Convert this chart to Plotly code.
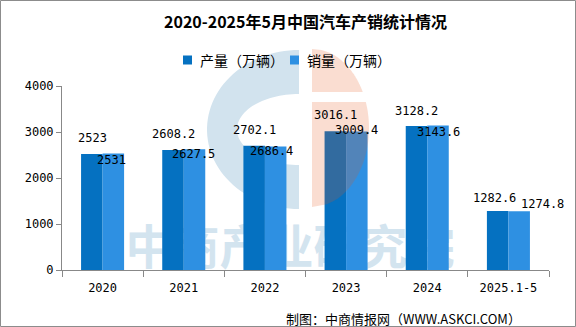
import numpy as np
import plotly.graph_objects as go

# ---- data ----
years = ["2020", "2021", "2022", "2023", "2024", "2025.1-5"]
production = [2523, 2608.2, 2702.1, 3016.1, 3128.2, 1282.6]
sales = [2531, 2627.5, 2686.4, 3009.4, 3143.6, 1274.8]
series_names = ["产量（万辆）", "销量（万辆）"]
y_ticks = [0, 1000, 2000, 3000, 4000]

title_text = "2020-2025年5月中国汽车产销统计情况"
source_text = "制图：中商情报网（WWW.ASKCI.COM）"
watermark_text = "中商产业研究院"

# ---- styling ----
colors = ["#0571C1", "#2E90E2"]
num_font = "DejaVu Sans Mono"
cjk_font = "Noto Sans CJK SC"

# per-label nudges (px): dx to the right, dy upward, relative to the bar top
prod_dx = [1, 1, 0, 0, 0, -3]
prod_dy = [16, 16, 15.7, 16, 15, 13]
sales_dx = [-2, -1, -4, 0, 0, 23]
sales_dy = [-6.4, -5, -4.6, 1.6, -6.6, 7.4]

FIG_W, FIG_H = 576, 327
M_L, M_R, M_T, M_B = 62, 27, 86, 57
PW = FIG_W - M_L - M_R
PH = FIG_H - M_T - M_B
BARGAP = 0.47
# distance (px) from a category centre to the centre of each of its two bars
bar_offset = PW / len(years) * (1 - BARGAP) / 4


def px(x):
    """pixel x -> paper x"""
    return (x - M_L) / PW


def py(y):
    """pixel y (from top) -> paper y"""
    return (FIG_H - M_B - y) / PH


def poly_path(points):
    return "M" + "L".join(f"{px(x):.5f},{py(y):.5f}" for x, y in points) + "Z"


fig = go.Figure()

# watermark text on the base axes, so the bars (overlaid axes) sit above it
fig.add_trace(go.Scatter(
    x=[px(290)], y=[py(252)], mode="text", text=[watermark_text],
    textfont=dict(family=cjk_font, size=47, color="#D3E4EF", weight="bold"),
    textposition="middle center", cliponaxis=False, hoverinfo="skip",
    showlegend=False, xaxis="x", yaxis="y",
))

fig.add_trace(go.Bar(
    x=years, y=production, name=series_names[0], marker_color=colors[0],
    marker_line_width=0, xaxis="x2", yaxis="y2", showlegend=False,
))
fig.add_trace(go.Bar(
    x=years, y=sales, name=series_names[1], marker_color=colors[1],
    marker_line_width=0, xaxis="x2", yaxis="y2", showlegend=False,
))

annotations = []
for i, yr in enumerate(years):
    annotations.append(dict(
        x=i, y=production[i], xref="x2", yref="y2", text=f"{production[i]:g}",
        showarrow=False, xanchor="center", yanchor="middle",
        xshift=-bar_offset + prod_dx[i], yshift=prod_dy[i],
        font=dict(family=num_font, size=12, color="#000000"),
    ))
    annotations.append(dict(
        x=i, y=sales[i], xref="x2", yref="y2", text=f"{sales[i]:g}",
        showarrow=False, xanchor="center", yanchor="middle",
        xshift=bar_offset + sales_dx[i], yshift=sales_dy[i],
        font=dict(family=num_font, size=12, color="#000000"),
    ))

# legend: swatch + caption for each series
legend_x = [183, 290]
shapes = []
for k in range(2):
    shapes.append(dict(
        type="rect", xref="paper", yref="paper",
        x0=px(legend_x[k]), x1=px(legend_x[k] + 9), y0=py(64.5), y1=py(55.5),
        fillcolor=colors[k], line_width=0,
    ))
    annotations.append(dict(
        x=px(legend_x[k] + 15), y=py(60), xref="paper", yref="paper",
        text=series_names[k], showarrow=False, xanchor="left", yanchor="middle",
        font=dict(family=cjk_font, size=14, color="#000000"),
    ))

# source line
annotations.append(dict(
    x=px(403), y=py(318), xref="paper", yref="paper", text=source_text,
    showarrow=False, xanchor="center", yanchor="middle",
    font=dict(family=cjk_font, size=13, color="#000000"),
))

# logo watermark: blue "C" ring (below the bars) and orange half disc (tinting above)
cx, cy = 299, 129.5
t = np.linspace(-np.pi / 2, -3 * np.pi / 2, 60)  # top -> left -> bottom
outer = [(cx + 92 * np.cos(a), cy - 79.5 * np.sin(a)) for a in t]
inner = [(cx + 62 * np.cos(a), cy - 35.5 * np.sin(a)) for a in t[::-1]]
shapes.append(dict(
    type="path", xref="paper", yref="paper", path=poly_path(outer + inner),
    fillcolor="#D2E3EE", line_width=0, layer="below",
))

ocx, ocy, orx, ory = 312, 128, 57, 79


def orange_piece(y_top, y_bot):
    ys = np.linspace(y_top, y_bot, 40)
    arc = [(ocx + orx * np.sqrt(max(0.0, 1 - ((y - ocy) / ory) ** 2)), y) for y in ys]
    return [(ocx, y_top)] + arc + [(ocx, y_bot)]


for (a, b) in [(ocy - ory, 92), (102, ocy + ory)]:
    shapes.append(dict(
        type="path", xref="paper", yref="paper", path=poly_path(orange_piece(a, b)),
        fillcolor="#E65719", opacity=0.2, line_width=0, layer="above",
    ))

# outer frame
shapes.append(dict(
    type="rect", xref="paper", yref="paper",
    x0=px(0.5), x1=px(575.5), y0=py(326.5), y1=py(0.5),
    line=dict(color="#8C8C8C", width=1), fillcolor="rgba(0,0,0,0)", layer="above",
))

fig.update_layout(
    width=FIG_W, height=FIG_H,
    margin=dict(l=M_L, r=M_R, t=M_T, b=M_B, pad=0),
    paper_bgcolor="#FFFFFF", plot_bgcolor="rgba(0,0,0,0)",
    barmode="group", bargap=BARGAP, bargroupgap=0,
    title=dict(
        text=title_text, x=0.5, xref="paper", xanchor="center",
        y=1 - 22 / FIG_H, yref="container", yanchor="middle",
        font=dict(family=cjk_font, size=16, color="#000000", weight="bold"),
    ),
    xaxis=dict(visible=False, range=[0, 1], domain=[0, 1], fixedrange=True),
    yaxis=dict(visible=False, range=[0, 1], domain=[0, 1], fixedrange=True),
    xaxis2=dict(
        overlaying="x", anchor="y2", type="category",
        categoryorder="array", categoryarray=years, range=[-0.5, len(years) - 0.5],
        showgrid=False, zeroline=False,
        showline=True, linecolor="#888888", linewidth=1,
        ticks="outside", tickson="boundaries", ticklen=6, tickcolor="#888888",
        tickangle=0, ticklabelstandoff=7,
        tickfont=dict(family=num_font, size=12, color="#000000"),
    ),
    yaxis2=dict(
        overlaying="y", anchor="x2", side="left", range=[0, 4000], tickvals=y_ticks,
        showgrid=False, zeroline=False, showline=True, linecolor="#888888",
        linewidth=1, ticks="outside", ticklen=5, tickcolor="#888888",
        tickfont=dict(family=num_font, size=12, color="#000000"),
    ),
    annotations=annotations,
    shapes=shapes,
    showlegend=False,
)

fig.write_html("out.html")
